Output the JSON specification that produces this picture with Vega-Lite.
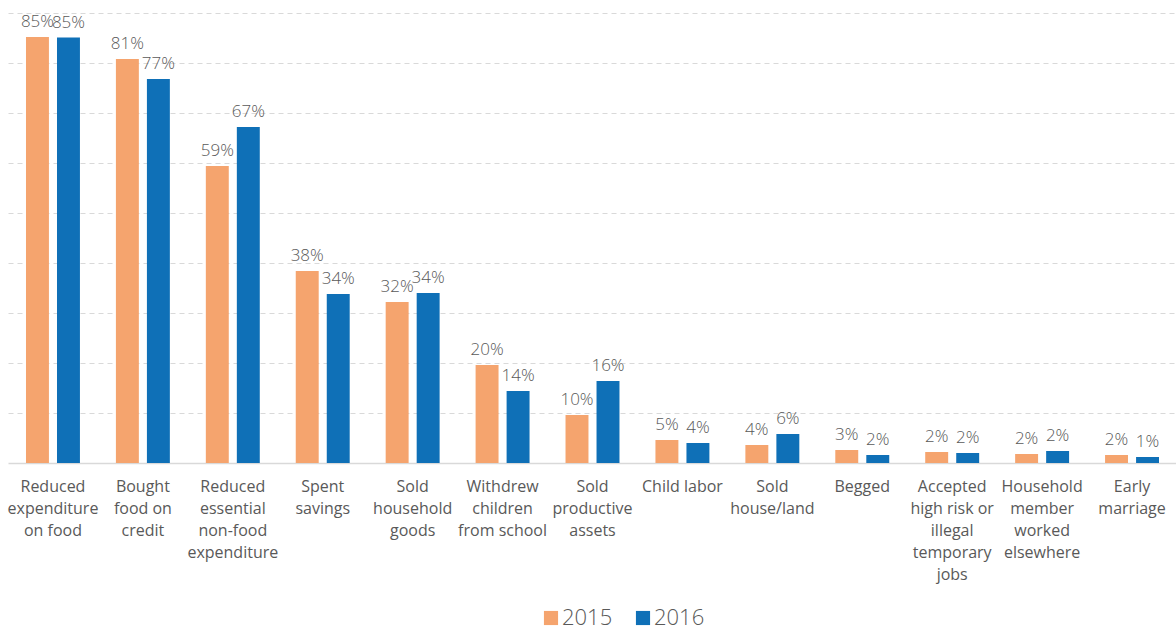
{
  "$schema": "https://vega.github.io/schema/vega-lite/v6.json",
  "width": 1169,
  "height": 450,
  "padding": {"left": 7, "top": 13, "right": 0, "bottom": 2},
  "config": {"font": "Open Sans", "view": {"stroke": null}},
  "data": {"values": [
    {"cat": "Reduced|expenditure|on food", "year": "2015", "value": 0.852},
    {"cat": "Reduced|expenditure|on food", "year": "2016", "value": 0.851},
    {"cat": "Bought|food on|credit", "year": "2015", "value": 0.808},
    {"cat": "Bought|food on|credit", "year": "2016", "value": 0.768},
    {"cat": "Reduced|essential|non-food|expenditure", "year": "2015", "value": 0.594},
    {"cat": "Reduced|essential|non-food|expenditure", "year": "2016", "value": 0.672},
    {"cat": "Spent|savings", "year": "2015", "value": 0.384},
    {"cat": "Spent|savings", "year": "2016", "value": 0.338},
    {"cat": "Sold|household|goods", "year": "2015", "value": 0.322},
    {"cat": "Sold|household|goods", "year": "2016", "value": 0.340},
    {"cat": "Withdrew|children|from school", "year": "2015", "value": 0.196},
    {"cat": "Withdrew|children|from school", "year": "2016", "value": 0.144},
    {"cat": "Sold|productive|assets", "year": "2015", "value": 0.096},
    {"cat": "Sold|productive|assets", "year": "2016", "value": 0.164},
    {"cat": "Child labor", "year": "2015", "value": 0.046},
    {"cat": "Child labor", "year": "2016", "value": 0.040},
    {"cat": "Sold|house/land", "year": "2015", "value": 0.036},
    {"cat": "Sold|house/land", "year": "2016", "value": 0.058},
    {"cat": "Begged", "year": "2015", "value": 0.026},
    {"cat": "Begged", "year": "2016", "value": 0.016},
    {"cat": "Accepted|high risk or|illegal|temporary|jobs", "year": "2015", "value": 0.022},
    {"cat": "Accepted|high risk or|illegal|temporary|jobs", "year": "2016", "value": 0.020},
    {"cat": "Household|member|worked|elsewhere", "year": "2015", "value": 0.018},
    {"cat": "Household|member|worked|elsewhere", "year": "2016", "value": 0.024},
    {"cat": "Early|marriage", "year": "2015", "value": 0.016},
    {"cat": "Early|marriage", "year": "2016", "value": 0.012}
  ]},
  "encoding": {
    "x": {
      "field": "cat", "type": "nominal", "sort": null,
      "scale": {"paddingInner": 0.4, "paddingOuter": 0.2},
      "axis": {
        "title": null, "ticks": false, "labelAngle": 0,
        "labelExpr": "split(datum.label, '|')",
        "labelFontSize": 16, "labelLineHeight": 22, "labelColor": "#595959",
        "labelPadding": 15, "labelBaseline": "top",
        "domainColor": "#d9d9d9", "domainWidth": 1.5, "labelLimit": 200
      }
    },
    "xOffset": {"field": "year", "type": "nominal", "scale": {"paddingInner": 0.26}},
    "y": {
      "field": "value", "type": "quantitative",
      "scale": {"domain": [0, 0.9]},
      "axis": {
        "title": null, "labels": false, "ticks": false, "domain": false,
        "grid": true, "gridDash": [5, 4], "gridColor": "#d9d9d9", "gridWidth": 1.2,
        "values": [0.1, 0.2, 0.3, 0.4, 0.5, 0.6, 0.7, 0.8, 0.9]
      }
    }
  },
  "layer": [
    {
      "mark": {"type": "bar"},
      "encoding": {
        "color": {
          "field": "year", "type": "nominal",
          "scale": {"domain": ["2015", "2016"], "range": ["#F5A46E", "#0F70B7"]},
          "legend": {
            "title": null, "orient": "none", "direction": "horizontal",
            "legendX": 532, "legendY": 594,
            "symbolType": "square", "symbolSize": 200, "symbolStrokeWidth": 0,
            "labelFontSize": 22, "labelColor": "#595959", "labelFontWeight": 300,
            "columnPadding": 19, "labelOffset": 0
          }
        }
      }
    },
    {
      "mark": {"type": "text", "baseline": "alphabetic", "dy": -10, "fontSize": 17, "color": "#595959", "fontWeight": 300},
      "encoding": {
        "text": {"field": "value", "type": "quantitative", "format": ".0%"}
      }
    }
  ]
}
